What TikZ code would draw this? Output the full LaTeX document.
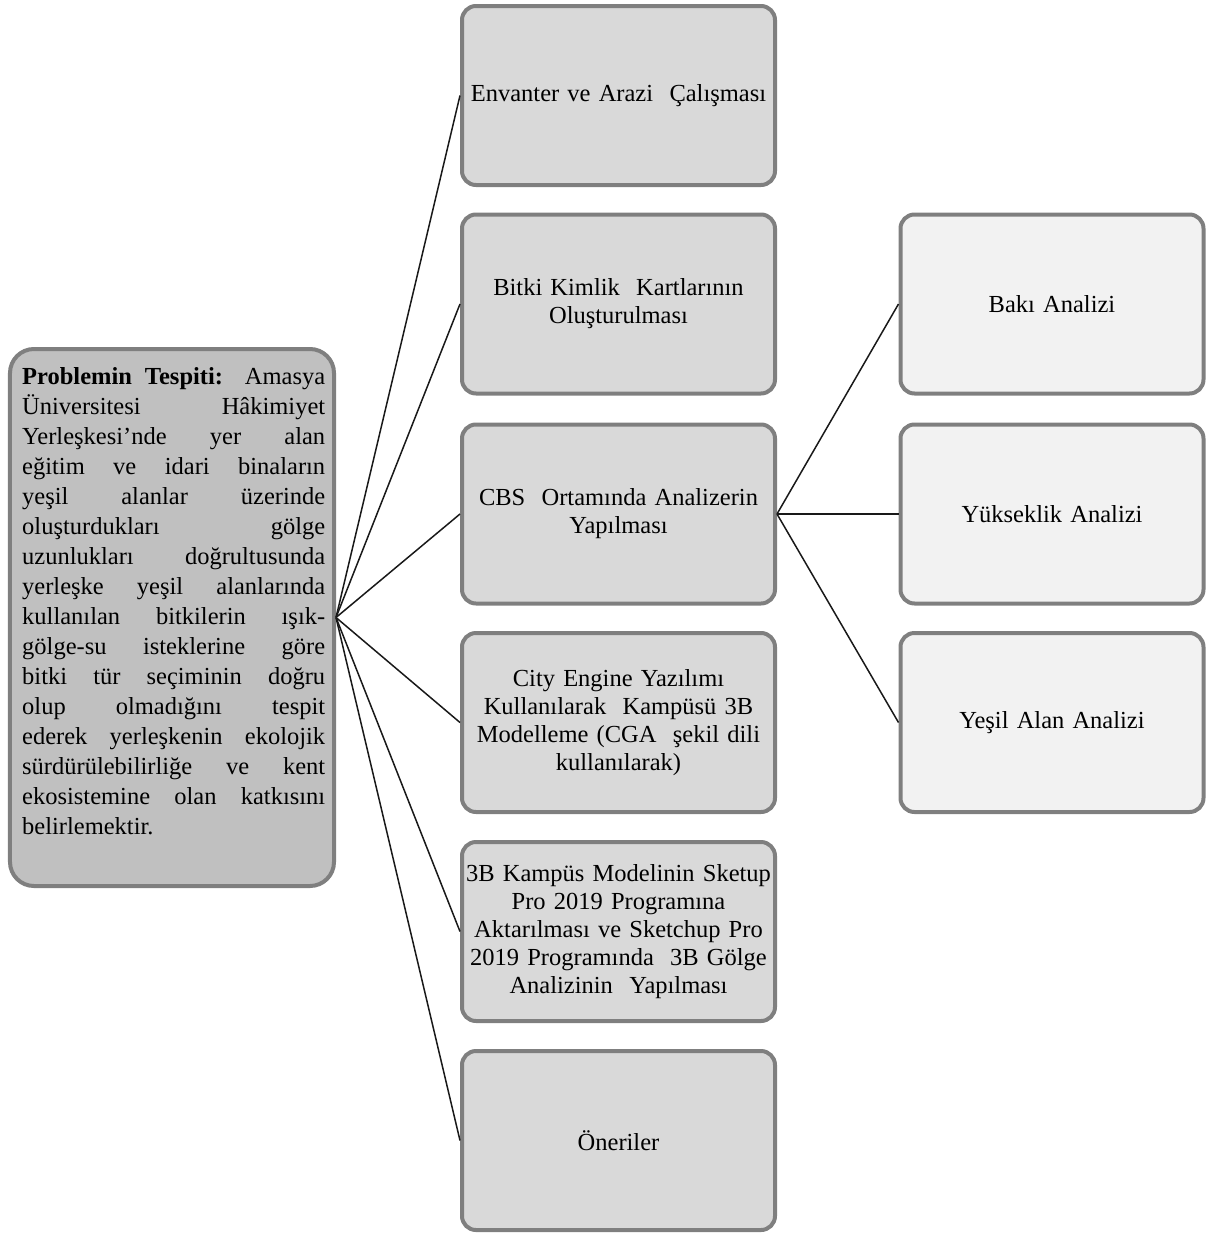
\documentclass[tikz,border=0pt]{standalone}
\usepackage{fontspec}
\setmainfont{Liberation Serif}
\definecolor{leftfill}{HTML}{C0C0C0}
\definecolor{midfill}{HTML}{D9D9D9}
\definecolor{rightfill}{HTML}{F2F2F2}
\definecolor{bordergray}{HTML}{7F7F7F}
\tikzset{
  box/.style={draw=bordergray, line width=4bp, rounded corners=14bp,
    minimum width=313bp, minimum height=179bp, inner sep=0pt,
    text width=305bp, align=center, font=\fontsize{24.5bp}{28bp}\selectfont},
  midbox/.style={box, fill=midfill},
  rightbox/.style={box, fill=rightfill, minimum width=303bp, text width=290bp},
  leftbox/.style={draw=bordergray, line width=4bp, rounded corners=24bp,
    fill=leftfill, minimum width=324bp, minimum height=537bp, inner sep=0pt},
  link/.style={draw=black!90, line width=1.5bp}
}
\begin{document}
\begin{tikzpicture}[x=1bp,y=-1bp]
\useasboundingbox (0,0) rectangle (1208,1237);
% left box
\node[leftbox] (L) at (172,617.5) {};
\node[anchor=north west, inner sep=0pt, font=\fontsize{24.5bp}{30bp}\selectfont] (Ltext) at (22,367)
{\parbox{303bp}{\tolerance=10000\hyphenpenalty=10000\hbadness=10000\parindent=0pt
\textbf{Problemin Tespiti:} Amasya\linebreak
Üniversitesi Hâkimiyet\linebreak
Yerleşkesi’nde yer alan\linebreak
eğitim ve idari binaların\linebreak
yeşil alanlar üzerinde\linebreak
oluşturdukları gölge\linebreak
uzunlukları doğrultusunda\linebreak
yerleşke yeşil alanlarında\linebreak
kullanılan bitkilerin ışık-\linebreak
gölge-su isteklerine göre\linebreak
bitki tür seçiminin doğru\linebreak
olup olmadığını tespit\linebreak
ederek yerleşkenin ekolojik\linebreak
sürdürülebilirliğe ve kent\linebreak
ekosistemine olan katkısını\linebreak
belirlemektir.}};
% middle boxes
\node[midbox] (m1) at (618.5,95.5) {Envanter ve Arazi \ Çalışması};
\node[midbox] (m2) at (618.5,304) {Bitki Kimlik \ Kartlarının\\Oluşturulması};
\node[midbox] (m3) at (618.5,514) {CBS \ Ortamında Analizerin\\Yapılması};
\node[midbox] (m4) at (618.5,722.5) {City Engine Yazılımı\\Kullanılarak \ Kampüsü 3B\\Modelleme (CGA \ şekil dili\\kullanılarak)};
\node[midbox] (m5) at (618.5,931.5) {3B Kampüs Modelinin Sketup\\Pro 2019 Programına\\Aktarılması ve Sketchup Pro\\2019 Programında \ 3B Gölge\\Analizinin \ Yapılması};
\node[midbox] (m6) at (618.5,1140.5) {Öneriler};
% right boxes
\node[rightbox] (r1) at (1052,304) {Bakı Analizi};
\node[rightbox] (r2) at (1052,514) {Yükseklik Analizi};
\node[rightbox] (r3) at (1052,722.5) {Yeşil Alan Analizi};
% connectors
\foreach \m in {m1,m2,m3,m4,m5,m6} \draw[link] (L.east) -- (\m.west);
\foreach \r in {r1,r2,r3} \draw[link] (m3.east) -- (\r.west);
\end{tikzpicture}
\end{document}
